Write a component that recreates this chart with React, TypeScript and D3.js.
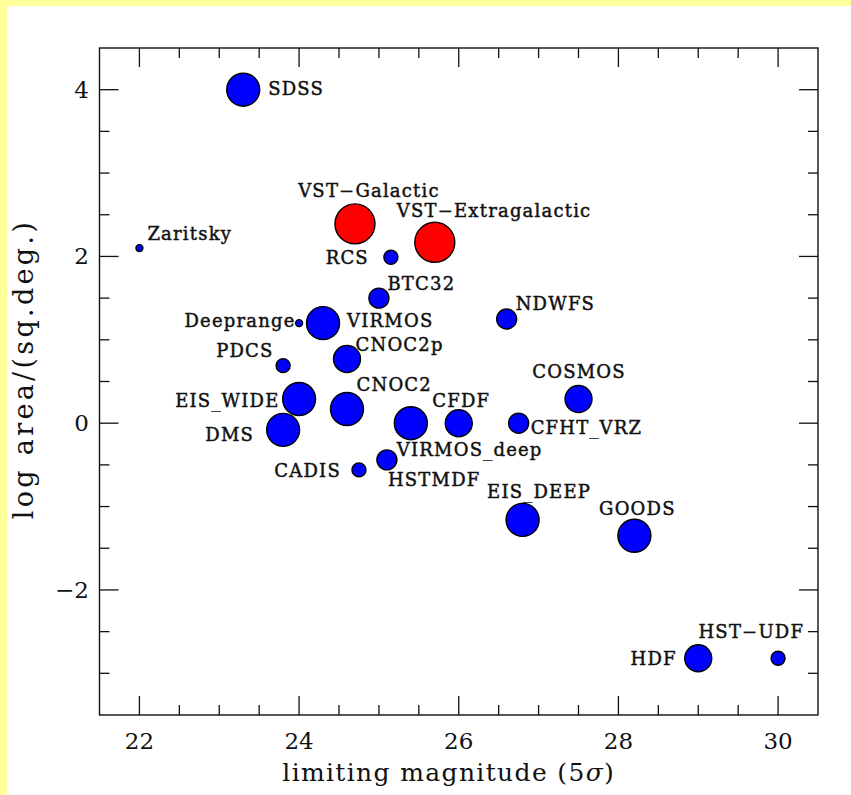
import React from 'react';
import * as d3 from 'd3';

// ---- data ----
const surveyNames = [
  'SDSS', 'VST−Galactic', 'VST−Extragalactic', 'Zaritsky', 'RCS', 'BTC32', 'NDWFS',
  'Deeprange', 'VIRMOS', 'PDCS', 'CNOC2p', 'EIS_WIDE', 'CNOC2', 'DMS', 'VIRMOS_deep',
  'CFDF', 'CFHT_VRZ', 'COSMOS', 'HSTMDF', 'CADIS', 'EIS_DEEP', 'GOODS', 'HDF', 'HST−UDF',
];
const limitingMag = [
  23.3, 24.7, 25.7, 22.0, 25.15, 25.0, 26.6,
  24.0, 24.3, 23.8, 24.6, 24.0, 24.6, 23.8, 25.4,
  26.0, 26.75, 27.5, 25.1, 24.75, 26.8, 28.2, 29.0, 30.0,
];
const logArea = [
  4.0, 2.39, 2.17, 2.1, 1.99, 1.5, 1.25,
  1.2, 1.2, 0.69, 0.77, 0.29, 0.17, -0.08, 0.0,
  0.0, 0.0, 0.29, -0.44, -0.56, -1.16, -1.35, -2.82, -2.82,
];
const sizeClass = [
  5, 6, 6, 1, 2, 3, 3,
  1, 5, 2, 4, 5, 5, 5, 5,
  4, 3, 4, 3, 2, 5, 5, 4, 2,
];
const isVST = [false, true, true, false, false, false, false, false, false, false, false, false,
  false, false, false, false, false, false, false, false, false, false, false, false];

const xMajorTicks = [22, 24, 26, 28, 30];
const yMajorTicks = [-2, 0, 2, 4];
const xDomain = [21.5, 30.5];
const yDomain = [-3.5, 4.5];

// ---- label layout (offsets from marker centre, px) ----
type Lab = { a: 'start' | 'middle' | 'end'; dx: number; dy: number };
const labelLayout: Record<string, Lab> = {
  'SDSS': { a: 'start', dx: 25, dy: 5 },
  'VST−Galactic': { a: 'middle', dx: 14, dy: -27 },
  'VST−Extragalactic': { a: 'start', dx: -38, dy: -25.5 },
  'Zaritsky': { a: 'start', dx: 8, dy: -8 },
  'RCS': { a: 'end', dx: -22, dy: 7 },
  'BTC32': { a: 'start', dx: 8.5, dy: -8.5 },
  'NDWFS': { a: 'start', dx: 9, dy: -8.5 },
  'Deeprange': { a: 'end', dx: -3.5, dy: 4 },
  'VIRMOS': { a: 'start', dx: 24, dy: 4 },
  'PDCS': { a: 'end', dx: -9.5, dy: -9 },
  'CNOC2p': { a: 'start', dx: 8.5, dy: -7.5 },
  'EIS_WIDE': { a: 'end', dx: -19.5, dy: 7.5 },
  'CNOC2': { a: 'start', dx: 9.5, dy: -18.5 },
  'DMS': { a: 'end', dx: -29, dy: 11 },
  'VIRMOS_deep': { a: 'start', dx: -14, dy: 33 },
  'CFDF': { a: 'middle', dx: 2.5, dy: -16.5 },
  'CFHT_VRZ': { a: 'start', dx: 12, dy: 10.5 },
  'COSMOS': { a: 'middle', dx: 0.5, dy: -21 },
  'HSTMDF': { a: 'start', dx: 1, dy: 26.5 },
  'CADIS': { a: 'end', dx: -18, dy: 7 },
  'EIS_DEEP': { a: 'middle', dx: 16.5, dy: -22 },
  'GOODS': { a: 'middle', dx: 3, dy: -21 },
  'HDF': { a: 'end', dx: -21.5, dy: 7 },
  'HST−UDF': { a: 'end', dx: 26, dy: -20 },
};

const W = 851;
const H = 795;
const left = 99.5, right = 818, top = 48, bottom = 715;

export default function App() {
  const x = d3.scaleLinear().domain(xDomain).range([left, right]);
  const y = d3.scaleLinear().domain(yDomain).range([bottom, top]);
  const r = d3.scaleLinear().domain([1, 2, 3, 4, 5, 6]).range([3.5, 7, 10, 13.5, 16.5, 20]);

  const xMinor = d3.range(22, 30.01, 0.5).filter((v) => !xMajorTicks.includes(v));
  const yMinor = d3.range(-3, 4.01, 0.5).filter((v) => !yMajorTicks.includes(v));
  const maj = 19, min = 10;

  const labelFont = { fontFamily: 'DejaVu Serif', fontSize: 18, letterSpacing: 1.2, stroke: '#111', strokeWidth: 0.45 };
  const axisFont = { fontFamily: 'DejaVu Serif' };

  const order = d3.range(surveyNames.length);

  return (
    <svg width={W} height={H} style={{ position: 'absolute', left: 0, top: 0, background: '#fff' }}>
      <rect x={0} y={0} width={W} height={H} fill="#fff" />
      <rect x={0} y={0} width={7} height={H} fill="#ffff99" />
      <rect x={0} y={0} width={W} height={6} fill="#ffff99" />

      {/* frame */}
      <rect x={left} y={top} width={right - left} height={bottom - top} fill="none" stroke="#111" strokeWidth={1.4} />

      {/* x ticks (bottom & top) */}
      {xMajorTicks.map((v) => (
        <g key={'xm' + v}>
          <line x1={x(v)} x2={x(v)} y1={bottom} y2={bottom - maj} stroke="#111" strokeWidth={1.3} />
          <line x1={x(v)} x2={x(v)} y1={top} y2={top + maj} stroke="#111" strokeWidth={1.3} />
          <text x={x(v)} y={749} textAnchor="middle" fontSize={23} {...axisFont} fill="#111">{v}</text>
        </g>
      ))}
      {xMinor.map((v) => (
        <g key={'xn' + v}>
          <line x1={x(v)} x2={x(v)} y1={bottom} y2={bottom - min} stroke="#111" strokeWidth={1.3} />
          <line x1={x(v)} x2={x(v)} y1={top} y2={top + min} stroke="#111" strokeWidth={1.3} />
        </g>
      ))}

      {/* y ticks (left & right) */}
      {yMajorTicks.map((v) => (
        <g key={'ym' + v}>
          <line x1={left} x2={left + maj} y1={y(v)} y2={y(v)} stroke="#111" strokeWidth={1.3} />
          <line x1={right} x2={right - maj} y1={y(v)} y2={y(v)} stroke="#111" strokeWidth={1.3} />
          <text x={89} y={y(v) + 8} textAnchor="end" fontSize={23} {...axisFont} fill="#111">
            {v < 0 ? '−' + Math.abs(v) : String(v)}
          </text>
        </g>
      ))}
      {yMinor.map((v) => (
        <g key={'yn' + v}>
          <line x1={left} x2={left + min} y1={y(v)} y2={y(v)} stroke="#111" strokeWidth={1.3} />
          <line x1={right} x2={right - min} y1={y(v)} y2={y(v)} stroke="#111" strokeWidth={1.3} />
        </g>
      ))}

      {/* axis titles */}
      <text x={(left + right) / 2 - 10} y={781} textAnchor="middle" fontSize={25} letterSpacing={1.35} {...axisFont} fill="#111">
        limiting magnitude (5<tspan fontStyle="italic">σ</tspan>)
      </text>
      <text transform={`translate(33, 369) rotate(-90)`} textAnchor="middle" fontSize={27} letterSpacing={3.3} {...axisFont} fill="#111">
        log area/(sq.deg.)
      </text>

      {/* markers */}
      {order.map((i) => (
        <circle key={'c' + i} cx={x(limitingMag[i])} cy={y(logArea[i])} r={r(sizeClass[i])}
          fill={isVST[i] ? '#ff0000' : '#0000ff'} stroke="#000" strokeWidth={1.4} />
      ))}

      {/* labels */}
      {order.map((i) => {
        const L = labelLayout[surveyNames[i]];
        return (
          <text key={'t' + i} x={x(limitingMag[i]) + L.dx} y={y(logArea[i]) + L.dy}
            textAnchor={L.a} {...labelFont} fill="#111">{surveyNames[i]}</text>
        );
      })}
    </svg>
  );
}
